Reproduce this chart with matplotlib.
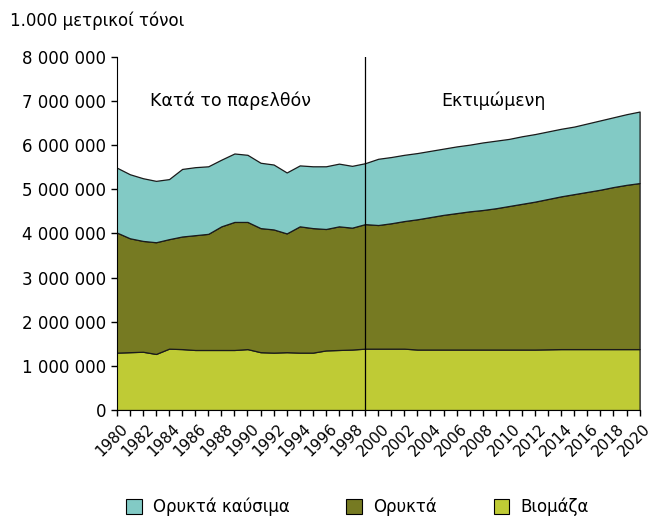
import matplotlib
matplotlib.use("Agg")
import matplotlib.pyplot as plt
import matplotlib.transforms as mtransforms
from matplotlib.ticker import FuncFormatter, MultipleLocator

# Data (thousand tonnes in units of 1 000)
years = list(range(1980, 2021))
biomass = [1300, 1310, 1320, 1270, 1390, 1380, 1360, 1360, 1360, 1360,
           1380, 1310, 1300, 1310, 1300, 1300, 1350, 1360, 1370, 1390,
           1390, 1390, 1390, 1370, 1370, 1370, 1370, 1370, 1370, 1370,
           1370, 1370, 1370, 1375, 1380, 1380, 1380, 1380, 1380, 1380, 1380]
minerals = [2720, 2580, 2510, 2530, 2480, 2550, 2600, 2630, 2800, 2900,
            2880, 2810, 2790, 2690, 2860, 2820, 2750, 2800, 2760, 2820,
            2800, 2840, 2890, 2950, 3000, 3050, 3090, 3130, 3160, 3200,
            3250, 3300, 3350, 3405, 3460, 3510, 3560, 3610, 3670, 3720, 3760]
fossil = [1470, 1450, 1420, 1390, 1360, 1530, 1540, 1530, 1510, 1550,
          1520, 1480, 1470, 1380, 1380, 1400, 1420, 1420, 1400, 1380,
          1500, 1500, 1500, 1500, 1500, 1500, 1510, 1510, 1530, 1530,
          1520, 1530, 1530, 1530, 1530, 1530, 1550, 1570, 1580, 1600, 1620]
labels = ["Βιομάζα", "Ορυκτά", "Ορυκτά καύσιμα"]
colors = ["#bfcb35", "#767a22", "#82cac5"]
split_year = 1999

scale = 1000  # stored in thousands
series = [[v * scale for v in s] for s in (biomass, minerals, fossil)]

fig = plt.figure(figsize=(6.56, 5.21), dpi=100)
ax = fig.add_axes([0.178, 0.213, 0.797, 0.678])

ax.stackplot(years, *series, labels=labels, colors=colors,
             edgecolor="#1a1a1a", linewidth=0.9)
ax.axvline(split_year, color="black", linewidth=0.9)

ax.set_xlim(1980, 2020)
ax.set_ylim(0, 8000000)
ax.yaxis.set_major_locator(MultipleLocator(1000000))
ax.yaxis.set_major_formatter(
    FuncFormatter(lambda v, p: f"{int(v):,}".replace(",", " ")))
ax.set_xticks(years, minor=True)
ax.set_xticks(years[::2])
ax.set_xticklabels([str(y) for y in years[::2]], rotation=45)
ax.tick_params(axis="y", labelsize=12, color="black", length=4, width=1)
ax.tick_params(axis="x", labelsize=11, color="black", length=4, width=1, pad=4)
ax.tick_params(axis="x", which="minor", length=4, width=1)

# nudge rotated year labels slightly left, as in the original
shift = mtransforms.ScaledTranslation(-5 / 100, 0, fig.dpi_scale_trans)
for lbl in ax.get_xticklabels():
    lbl.set_transform(lbl.get_transform() + shift)

for s in ("top", "right"):
    ax.spines[s].set_visible(False)

ax.text(1988.7, 7000000, "Κατά το παρελθόν", fontsize=12.5, ha="center", va="center")
ax.text(2008.8, 7000000, "Εκτιμώμενη", fontsize=12.5, ha="center", va="center")

fig.text(0.015, 0.96, "1.000 μετρικοί τόνοι", fontsize=12, va="center")

handles, labs = ax.get_legend_handles_labels()
leg = fig.legend(handles[::-1], labs[::-1], loc="center", bbox_to_anchor=(0.545, 0.027),
                 ncol=3, frameon=False, fontsize=12, handlelength=0.95,
                 handleheight=0.95, handletextpad=0.65, columnspacing=3.4)
for h in leg.legend_handles:
    h.set_edgecolor("black")
    h.set_linewidth(0.8)

fig.savefig("out.png", dpi=100)
